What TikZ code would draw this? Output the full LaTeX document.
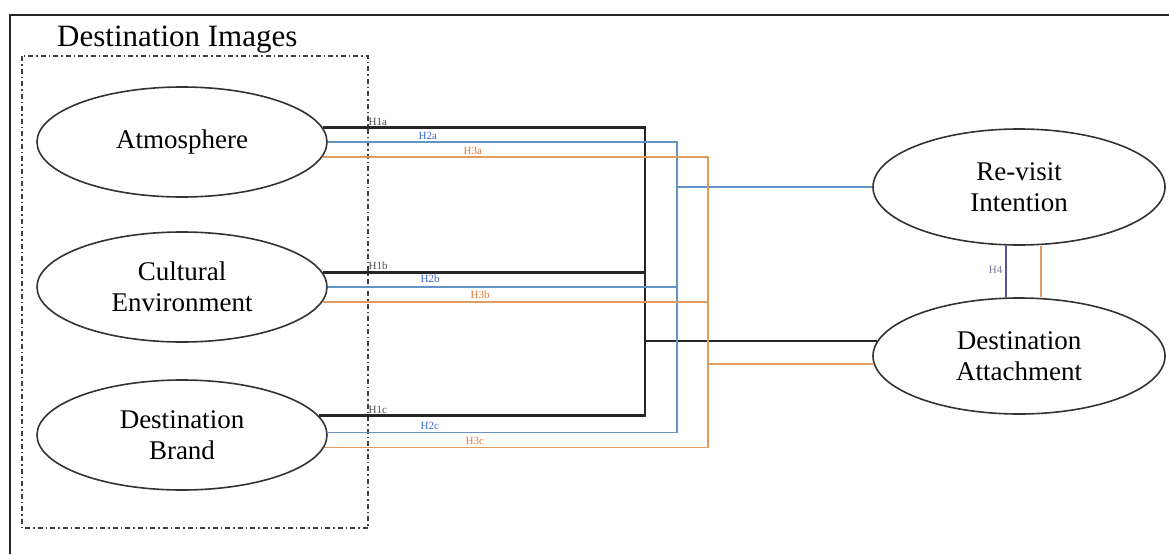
\documentclass[tikz,border=0pt]{standalone}
\usepackage{fontspec}
\setmainfont{Liberation Serif}
\usetikzlibrary{shapes.geometric}
\definecolor{hblue}{RGB}{100,148,198}
\definecolor{horange}{RGB}{225,155,95}
\definecolor{hpurple}{RGB}{95,80,140}
\definecolor{lblue}{RGB}{60,105,200}
\definecolor{lorange}{RGB}{225,125,55}
\begin{document}
\begin{tikzpicture}[x=1pt,y=-1pt,
  construct/.style={ellipse,draw=black!80,line width=1.6pt,fill=white,minimum width=290pt,minimum height=110pt,inner sep=0pt,align=center,font=\fontsize{27}{31}\selectfont},
  hblack/.style={draw=black!85,line width=2.6pt},
  hbluel/.style={draw=hblue,line width=1.8pt},
  horangel/.style={draw=horange,line width=1.8pt},
  hpurplel/.style={draw=hpurple,line width=1.8pt},
  lab/.style={font=\fontsize{11}{11}\selectfont,inner sep=0.5pt,anchor=south west},
]
\useasboundingbox (0,0) rectangle (1169,554);
% outer frame
\draw[black!85,line width=1.8pt] (1169,15) -- (10,15) -- (10,554);
% group frame
\draw[black!75,line width=1.6pt,dash pattern=on 5pt off 3pt on 1.5pt off 3pt] (22,56) rectangle (368,528);
\node[anchor=base west,inner sep=0pt,font=\fontsize{31}{31}\selectfont] (title) at (57,46) {Destination Images};
% constructs
\node[construct] (atm) at (182,142) {Atmosphere};
\node[construct] (cul) at (182,287) {Cultural\\Environment};
\node[construct] (brd) at (182,435) {Destination\\Brand};
\node[construct,minimum width=292pt,minimum height=116pt] (rev) at (1019,187) {Re-visit\\Intention};
\node[construct,minimum width=292pt,minimum height=116pt] (att) at (1019,356) {Destination\\Attachment};
% bus columns
\coordinate (kx) at (645,0);
\coordinate (bx) at (677,0);
\coordinate (ox) at (708,0);
\coordinate (px) at (1006,0);
\coordinate (qx) at (1041,0);
% H1 (black) -> attachment
\draw[hblack] (atm.6) -- (atm.6 -| kx) -- (brd.8 -| kx) -- (brd.8);
\draw[hblack] (cul.6) -- (cul.6 -| kx);
\draw[hblack] (kx |- att.174) -- (att.174);
% H2 (blue) -> revisit
\draw[hbluel] (atm.east) -- (atm.east -| bx) -- (brd.1 -| bx) -- (brd.1);
\draw[hbluel] (cul.east) -- (cul.east -| bx);
\draw[hbluel] (bx |- rev.west) -- (rev.west);
% H3 (orange)
\draw[horangel] (atm.-6) -- (atm.-6 -| ox) -- (brd.-5 -| ox) -- (brd.-5);
\draw[horangel] (cul.-6) -- (cul.-6 -| ox);
\draw[horangel] (ox |- att.183) -- (att.183);
% between right constructs
\draw[hpurplel] (rev.south -| px) -- (att.north -| px);
\draw[horangel] (rev.south -| qx) -- (att.north -| qx);
% labels
\node[lab,text=black!70] (l1a) at (368,126) {H1a};
\node[lab,text=lblue] (l2a) at (418,140) {H2a};
\node[lab,text=lorange] (l3a) at (463,155) {H3a};
\node[lab,text=black!70] (l1b) at (368,270) {H1b};
\node[lab,text=lblue] (l2b) at (420,283) {H2b};
\node[lab,text=lorange] (l3b) at (470,299) {H3b};
\node[lab,text=black!70] (l1c) at (368,414) {H1c};
\node[lab,text=lblue] (l2c) at (420,430) {H2c};
\node[lab,text=lorange] (l3c) at (465,445) {H3c};
\node[font=\fontsize{11}{11}\selectfont,text=hpurple!80,anchor=east,inner sep=0.5pt] (l4) at (1003,270) {H4};
\end{tikzpicture}
\end{document}
